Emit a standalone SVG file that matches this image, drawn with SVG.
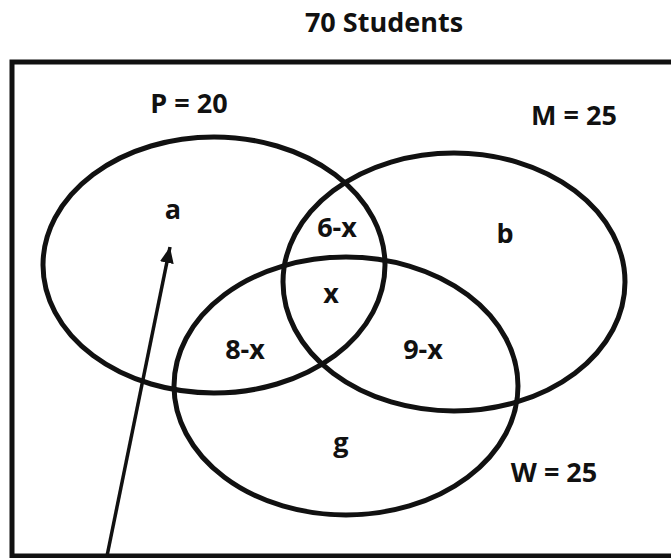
<svg xmlns="http://www.w3.org/2000/svg" width="671" height="558" viewBox="0 0 671 558">
<defs>
<style>
.t{font-family:"Open Sans","Liberation Sans",sans-serif;font-weight:bold;font-size:27px;fill:#111;text-anchor:middle}
.set{fill:none;stroke:#111;stroke-width:5}
</style>
<marker id="ah" markerUnits="userSpaceOnUse" markerWidth="16" markerHeight="14" refX="16" refY="7" orient="auto">
<path d="M0,0 L16,7 L0,14 Z" fill="#111"/>
</marker>
</defs>
<rect width="671" height="558" fill="#fff"/>
<g id="universe">
<rect x="12" y="62" width="680" height="494" fill="none" stroke="#111" stroke-width="5"/>
<text class="t" x="384" y="32">70 Students</text>
</g>
<g id="P">
<ellipse class="set" cx="214" cy="265" rx="171" ry="128"/>
<text class="t" x="189" y="113">P = 20</text>
</g>
<g id="M">
<ellipse class="set" cx="454" cy="282" rx="171" ry="129"/>
<text class="t" x="574" y="125">M = 25</text>
</g>
<g id="W">
<ellipse class="set" cx="346" cy="386" rx="172" ry="129"/>
<text class="t" x="554" y="482">W = 25</text>
</g>
<g id="regions">
<text class="t" x="173" y="219">a</text>
<text class="t" x="337" y="237">6-x</text>
<text class="t" x="505" y="243">b</text>
<text class="t" x="331" y="303">x</text>
<text class="t" x="245" y="359">8-x</text>
<text class="t" x="423" y="359">9-x</text>
<text class="t" x="341" y="452">g</text>
</g>
<g id="connectors">
<line x1="107" y1="556" x2="170" y2="247" stroke="#111" stroke-width="3.5" marker-end="url(#ah)"/>
</g>
</svg>
